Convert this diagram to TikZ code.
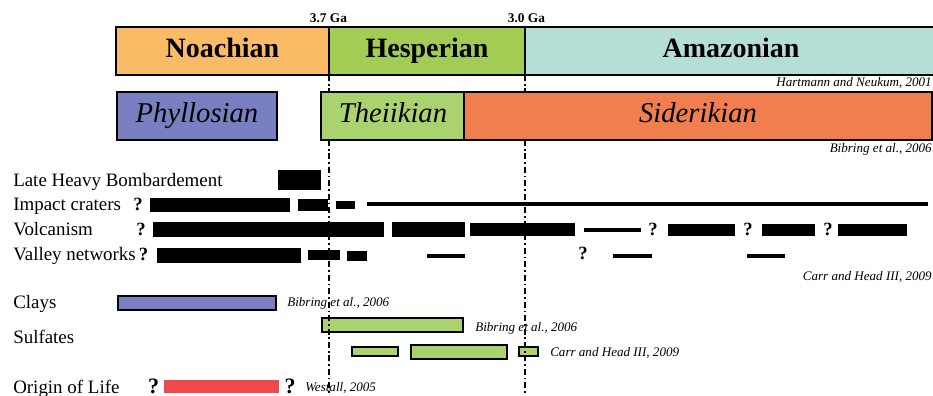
\documentclass[tikz,border=0pt]{standalone}
\usepackage{fontspec}
\setmainfont{Liberation Serif}
\usetikzlibrary{positioning}
\definecolor{noachcol}{RGB}{249,187,102}
\definecolor{hespcol}{RGB}{163,204,84}
\definecolor{amazcol}{RGB}{181,222,214}
\definecolor{phyllcol}{RGB}{122,127,194}
\definecolor{theicol}{RGB}{170,210,110}
\definecolor{sidercol}{RGB}{240,126,78}
\definecolor{lifecol}{RGB}{238,74,74}

\begin{document}
\begin{tikzpicture}[x=0.75pt, y=-0.75pt,
    period/.style={draw=black, line width=1.2pt},
    era/.style={anchor=base, inner sep=0pt, font=\fontsize{21}{21}\selectfont\bfseries},
    phase/.style={anchor=base, inner sep=0pt, font=\fontsize{21.5}{21.5}\selectfont\itshape},
    ga/.style={anchor=base, inner sep=0pt, font=\fontsize{10}{10}\selectfont\bfseries},
    rowlabel/.style={anchor=base west, inner sep=0pt, font=\fontsize{14.2}{14.2}\selectfont},
    ref/.style={inner sep=0pt, font=\fontsize{9.8}{9.8}\selectfont\itshape},
    qmark/.style={anchor=base, inner sep=0pt, font=\fontsize{14}{14}\selectfont\bfseries},
    thinbar/.style={line width=3pt},
    boundary/.style={line width=1.1pt, dash pattern=on 4.5pt off 2.2pt on 1.2pt off 2.2pt}]
  \useasboundingbox (0,0) rectangle (933,396);

  \draw[period, fill=noachcol] (116,27) rectangle (329,75);
  \draw[period, fill=hespcol] (329,27) rectangle (525,75);
  \draw[period, fill=amazcol] (525,27) rectangle (937,75);
  \node[era] (noach) at (222.5,57) {Noachian};
  \node[era] (hesp) at (427,57) {Hesperian};
  \node[era] (amaz) at (731,57) {Amazonian};
  \node[ga] (ga37) at (328.5,22) {3.7 Ga};
  \node[ga] (ga30) at (526.5,22) {3.0 Ga};
  \node[ref, anchor=base east] (hartmann) at (932,86) {Hartmann and Neukum, 2001};

  \draw[period, fill=phyllcol] (117,92) rectangle (277,140);
  \draw[period, fill=theicol] (321,92) rectangle (464,140);
  \draw[period, fill=sidercol] (464,92) rectangle (932,140);
  \node[phase] (phyll) at (197,122) {Phyllosian};
  \node[phase] (theii) at (393,122) {Theiikian};
  \node[phase] (sider) at (698,122) {Siderikian};
  \node[ref, anchor=base east] (bibringA) at (932,152) {Bibring et al., 2006};

  \node[rowlabel] (lhb) at (13,186) {Late Heavy Bombardement};
  \node[rowlabel] (craters) at (13,210) {Impact craters};
  \node[rowlabel] (volc) at (13,235) {Volcanism};
  \node[rowlabel] (valley) at (13,260) {Valley networks};
  \node[rowlabel] (clays) at (13,308) {Clays};
  \node[rowlabel] (sulf) at (13,343) {Sulfates};
  \node[rowlabel] (life) at (13,393) {Origin of Life};

  \foreach \a/\b/\c/\d in {278/170/321/190,
      150/198/290/212, 298/199/328/211, 336/201/355/209,
      153/222/384/237, 392/222/465/237, 470/223/575/236,
      668/224/735/236, 762/224/815/236, 838/224/907/236,
      157/248/301/263, 308/250/340/260, 347/251/367/261}{
    \fill (\a,\b) rectangle (\c,\d);
  }
  \foreach \a/\b/\y in {367/928/203.5, 584/641/230, 427/465/256, 613/652/256, 747/785/256}{
    \draw[thinbar] (\a,\y) -- (\b,\y);
  }
  \foreach \x/\y [count=\i] in {138/210, 141/235, 143.5/260, 653/235, 748/235, 828/235, 583/259}{
    \node[qmark] (q\i) at (\x,\y) {?};
  }
  \node[ref, anchor=base east] (carrA) at (932,280) {Carr and Head III, 2009};

  \draw[period, fill=phyllcol] (118,296) rectangle (276,310);
  \node[ref, anchor=base west] (bibringB) at (287,306) {Bibring et al., 2006};

  \draw[period, fill=theicol] (322,318) rectangle (463,332);
  \node[ref, anchor=base west] (bibringC) at (475,331) {Bibring et al., 2006};
  \foreach \a/\b/\c/\d in {352/347/398/356, 411/345/507/359, 519/347/538/356}{
    \draw[period, fill=theicol] (\a,\b) rectangle (\c,\d);
  }
  \node[ref, anchor=base west] (carrB) at (550,356) {Carr and Head III, 2009};

  \fill[lifecol] (164,380) rectangle (279,393);
  \node[qmark, font=\fontsize{16.5}{16.5}\selectfont\bfseries] (qlifeA) at (153.5,393) {?};
  \node[qmark, font=\fontsize{16.5}{16.5}\selectfont\bfseries] (qlifeB) at (290,393) {?};
  \node[ref, anchor=base west] (westall) at (305,391) {Westall, 2005};

  \foreach \x in {329,525}{
    \draw[boundary] (\x,75) -- (\x,92);
    \draw[boundary] (\x,140) -- (\x,396);
  }
\end{tikzpicture}
\end{document}
